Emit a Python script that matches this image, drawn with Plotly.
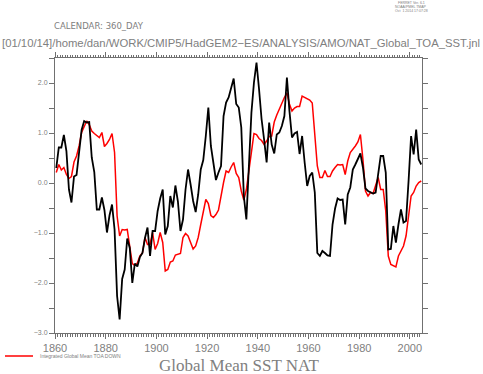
import plotly.graph_objects as go

# Annual series, 1860..2004 (plotted at mid-year)
start_year = 1860
sst_nat = [
    0.30, 0.71, 0.71, 0.96, 0.64, -0.13, -0.39, 0.13, 0.16, 0.64,
    1.06, 1.24, 1.21, 1.22, 0.51, 0.22, -0.53, -0.53, -0.29, -0.54,
    -0.99, -0.65, -0.43, -0.93, -2.26, -2.73, -1.92, -1.73, -1.11, -1.30,
    -2.00, -1.61, -1.67, -1.48, -1.40, -1.10, -0.89, -1.46, -0.96, -0.96,
    -0.56, -0.31, -0.13, -1.03, -0.86, -0.26, -0.49, -0.05, -0.37, -0.96,
    -0.73, -0.13, 0.27, -0.03, -0.36, -0.58, -0.23, 0.27, 0.46, 0.94,
    1.51, 0.74, 0.34, 0.06, 0.21, 0.34, 1.34, 1.61, 1.71, 1.88,
    2.09, 1.58, 1.51, 1.11, -0.26, -0.73, 0.21, 1.41, 2.01, 2.41,
    1.88, 1.28, 0.87, 0.41, 1.21, 0.77, 0.59, 0.97, 1.01, 1.14,
    1.34, 2.11, 1.44, 0.91, 0.99, 1.02, 0.58, 0.94, 0.41, -0.06,
    0.14, 0.21, -0.19, -1.40, -1.46, -1.36, -1.40, -1.45, -1.46, -0.83,
    -0.51, -0.31, -0.34, -0.33, -0.83, -0.23, -0.09, 0.27, 0.37, 0.47,
    0.59, 0.31, -0.11, -0.16, -0.19, -0.21, -0.19, 0.17, 0.54, 0.54,
    0.21, -1.33, -1.32, -0.86, -1.19, -0.83, -0.53, -0.79, -0.76, 0.04,
    0.94, 0.57, 1.07, 0.47, 0.37,
]
toa_down = [
    0.21, 0.37, 0.26, 0.31, 0.17, 0.09, 0.13, 0.42, 0.54, 0.74,
    1.01, 1.12, 1.24, 1.17, 1.04, 0.99, 0.94, 0.91, 1.01, 0.73,
    0.79, 0.87, 0.99, 0.61, -0.66, -1.06, -0.93, -0.94, -0.93, -1.30,
    -1.61, -1.65, -1.60, -1.46, -1.40, -1.09, -1.23, -1.23, -0.99, -1.33,
    -1.21, -0.99, -1.19, -1.76, -1.73, -1.58, -1.56, -1.44, -1.42, -1.41,
    -1.09, -1.01, -1.06, -1.19, -1.32, -1.26, -1.09, -0.83, -0.58, -0.33,
    -0.41, -0.65, -0.69, -0.63, -0.54, -0.23, 0.01, 0.24, 0.21, 0.32,
    0.41, 0.19, 0.11, -0.16, -0.34, -0.13, 0.27, 0.64, 0.99, 0.97,
    0.89, 0.85, 0.77, 0.84, 0.93, 0.94, 1.22, 1.36, 1.48, 1.60,
    1.71, 1.80, 1.58, 1.44, 1.50, 1.53, 1.53, 1.74, 1.71, 1.68,
    1.66, 1.60, 1.04, 0.34, 0.11, 0.11, 0.25, 0.13, 0.13, 0.24,
    0.31, 0.37, 0.36, 0.37, 0.17, 0.44, 0.61, 0.67, 0.74, 0.82,
    0.97, 0.47, -0.16, -0.26, -0.19, -0.21, -0.03, 0.11, -0.13, -0.13,
    -0.56, -1.46, -1.63, -1.65, -1.68, -1.46, -1.36, -1.26, -1.06, -0.59,
    -0.26, -0.19, -0.06, 0.01, 0.04,
]
years = [start_year + 0.5 + i for i in range(len(sst_nat))]
x_ticks = [1860, 1880, 1900, 1920, 1940, 1960, 1980, 2000]
y_ticks = [-3.0, -2.0, -1.0, 0.0, 1.0, 2.0]
y_labels = ["\u22123.0", "\u22122.0", "\u22121.0", "0.0", "1.0", "2.0"]

GRAY = "#707070"
TXT = "#808080"

fig = go.Figure()
fig.add_trace(go.Scatter(x=years, y=toa_down, mode="lines",
                         line=dict(color="#ff0000", width=1.5), showlegend=False))
fig.add_trace(go.Scatter(x=years, y=sst_nat, mode="lines",
                         line=dict(color="#000000", width=1.8), showlegend=False))

fig.update_layout(
    width=483, height=374,
    margin=dict(l=55, r=61, t=58, b=41),
    paper_bgcolor="white", plot_bgcolor="white",
    showlegend=False,
    xaxis=dict(range=[1860, 2004.8], tickmode="array", tickvals=x_ticks,
               ticktext=[str(v) for v in x_ticks],
               ticks="outside", ticklen=5, tickcolor=GRAY, tickwidth=1,
               minor=dict(dtick=1, tick0=1860, ticks="outside", ticklen=2.5,
                          tickcolor=GRAY, tickwidth=1),
               showline=True, linecolor=GRAY, linewidth=1, mirror="ticks",
               showgrid=False, zeroline=False,
               tickfont=dict(family="Liberation Sans Narrow, Liberation Sans", size=11, color=TXT)),
    yaxis=dict(range=[-3.0, 2.5], tickmode="array", tickvals=y_ticks, ticktext=y_labels,
               ticks="outside", ticklen=5, tickcolor=GRAY, tickwidth=1,
               minor=dict(dtick=0.5, tick0=-3, ticks="outside", ticklen=5,
                          tickcolor=GRAY, tickwidth=1),
               showline=True, linecolor=GRAY, linewidth=1, mirror="ticks",
               showgrid=False, zeroline=False,
               tickfont=dict(family="Liberation Sans", size=7, color=TXT)),
)

def px_x(p):
    return (p - 55) / 367.0

def px_y(p):
    return (333 - p) / 275.0

ann = [
    dict(text="[01/10/14]/home/dan/WORK/CMIP5/HadGEM2\u2212ES/ANALYSIS/AMO/NAT_Global_TOA_SST.jnl",
         x=px_x(0), y=px_y(43), xanchor="left", yanchor="middle",
         font=dict(family="Liberation Sans", size=11.3, color=TXT)),
    dict(text="CALENDAR: 360_DAY", x=px_x(52), y=px_y(26), xanchor="left", yanchor="middle",
         font=dict(family="DejaVu Sans", size=8.5, color=TXT)),
    dict(text="FERRET Ver. 6.1", x=px_x(411), y=px_y(3.5), xanchor="center", yanchor="middle",
         font=dict(family="Liberation Sans", size=3.5, color=TXT)),
    dict(text="NOAA/PMEL TMAP", x=px_x(411), y=px_y(7), xanchor="center", yanchor="middle",
         font=dict(family="Liberation Sans", size=3.5, color=TXT)),
    dict(text="Oct  1 2014 17:07:28", x=px_x(411), y=px_y(10.5), xanchor="center", yanchor="middle",
         font=dict(family="Liberation Sans", size=3.5, color=TXT)),
    dict(text="Integrated Global Mean TOA DOWN", x=px_x(38), y=px_y(356), xanchor="left",
         yanchor="middle", font=dict(family="Liberation Sans", size=5, color=TXT)),
    dict(text="Global Mean SST NAT", x=px_x(239), y=px_y(365.5), xanchor="center",
         yanchor="middle", font=dict(family="Liberation Serif", size=17, color=TXT)),
]
for a in ann:
    a.update(xref="paper", yref="paper", showarrow=False)
    fig.add_annotation(**a)

fig.add_shape(type="line", xref="paper", yref="paper",
              x0=px_x(5), x1=px_x(33), y0=px_y(356), y1=px_y(356),
              line=dict(color="#ff0000", width=1.5))

fig.write_html("out.html", config={"displayModeBar": False},
               post_script="document.body.style.margin='0px';document.body.style.padding='0px';")
